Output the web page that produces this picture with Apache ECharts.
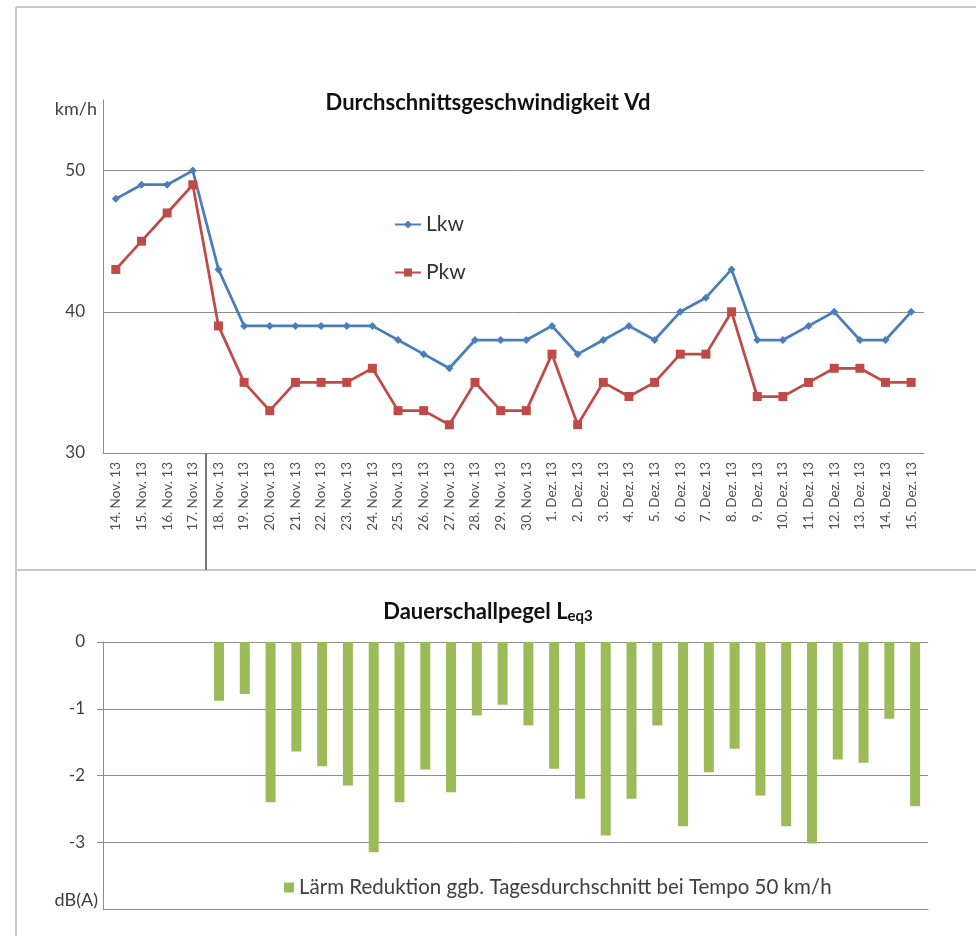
<!DOCTYPE html>
<html>
<head>
<meta charset="utf-8">
<script src="https://cdn.jsdelivr.net/npm/echarts@6/dist/echarts.min.js"></script>
<style>
html,body{margin:0;padding:0;background:#fff;}
#c{width:976px;height:936px;}
</style>
</head>
<body>
<div id="c"></div>
<script>
const categories = ['14. Nov. 13','15. Nov. 13','16. Nov. 13','17. Nov. 13','18. Nov. 13','19. Nov. 13','20. Nov. 13','21. Nov. 13','22. Nov. 13','23. Nov. 13','24. Nov. 13','25. Nov. 13','26. Nov. 13','27. Nov. 13','28. Nov. 13','29. Nov. 13','30. Nov. 13','1. Dez. 13','2. Dez. 13','3. Dez. 13','4. Dez. 13','5. Dez. 13','6. Dez. 13','7. Dez. 13','8. Dez. 13','9. Dez. 13','10. Dez. 13','11. Dez. 13','12. Dez. 13','13. Dez. 13','14. Dez. 13','15. Dez. 13'];
const lkw = [48,49,49,50,43,39,39,39,39,39,39,38,37,36,38,38,38,39,37,38,39,38,40,41,43,38,38,39,40,38,38,40];
const pkw = [43,45,47,49,39,35,33,35,35,35,36,33,33,32,35,33,33,37,32,35,34,35,37,37,40,34,34,35,36,36,35,35];
const reduction = [null,null,null,null,-0.88,-0.78,-2.4,-1.64,-1.86,-2.15,-3.15,-2.4,-1.91,-2.25,-1.1,-0.94,-1.25,-1.9,-2.35,-2.9,-2.35,-1.25,-2.76,-1.95,-1.6,-2.3,-2.76,-3.02,-1.76,-1.81,-1.15,-2.46];
const speedTicks = [30,40,50];
const dbTicks = [0,-1,-2,-3];
const changeDay = '18. Nov. 13';

const FONT = 'Lato';
const changeIndex = categories.indexOf(changeDay);
const chart = echarts.init(document.getElementById('c'));
const gridColor = '#8c8c8c';
chart.setOption({
  backgroundColor: '#ffffff',
  textStyle: {fontFamily: FONT},
  animation: false,
  graphic: [
    {type:'line', shape:{x1:16,y1:7,x2:976,y2:7}, style:{stroke:'#c8c8c8', lineWidth:2}},
    {type:'line', shape:{x1:16,y1:7,x2:16,y2:936}, style:{stroke:'#c8c8c8', lineWidth:2}},
    {type:'line', shape:{x1:16,y1:570,x2:976,y2:570}, style:{stroke:'#c8c8c8', lineWidth:2}}
  ],
  title: [
    {text:'Durchschnittsgeschwindigkeit Vd', left:'center', top:87,
     textStyle:{fontFamily:FONT, fontSize:22, fontWeight:'bold', color:'#111'}},
    {text:'Dauerschallpegel L{sub|eq3}', left:'center', top:594,
     textStyle:{fontFamily:FONT, fontSize:22, fontWeight:'bold', color:'#111',
       rich:{sub:{fontFamily:FONT, fontSize:15, fontWeight:'bold', color:'#111', padding:[10,0,0,0]}}}}
  ],
  legend: [
    {data:['Lkw','Pkw'], orient:'vertical', left:389, top:209, itemGap:27, itemWidth:26, itemHeight:10,
     textStyle:{fontFamily:FONT, fontSize:21, color:'#333'}},
    {data:['Lärm Reduktion ggb. Tagesdurchschnitt bei Tempo 50 km/h'], left:279, top:872, icon:'rect',
     itemWidth:10, itemHeight:10, textStyle:{fontFamily:FONT, fontSize:20.5, color:'#404040'}}
  ],
  grid: [
    {left:103, right:52, top:100, bottom:483},
    {left:103, right:48, top:642, bottom:27}
  ],
  xAxis: [
    {type:'category', gridIndex:0, data:categories, boundaryGap:true,
     axisLine:{lineStyle:{color:gridColor, width:1}},
     axisTick:{show:false},
     axisLabel:{rotate:90, fontSize:13.5, color:'#505050', margin:9, interval:0, fontFamily:FONT}},
    {type:'category', gridIndex:1, data:categories, boundaryGap:true,
     axisLine:{onZero:false, lineStyle:{color:gridColor, width:1}},
     axisTick:{show:false}, axisLabel:{show:false}},
    {type:'value', gridIndex:0, min:0, max:categories.length, position:'bottom',
     axisLine:{show:false}, axisLabel:{show:false}, splitLine:{show:false},
     axisTick:{show:true, customValues:[changeIndex], length:117, lineStyle:{color:'#7a7a7a', width:2}}}
  ],
  yAxis: [
    {type:'value', gridIndex:0, min:30, max:55, interval:10,
     name:'km/h', nameLocation:'end', nameGap:0,
     nameTextStyle:{fontFamily:FONT, fontSize:18, color:'#404040', align:'right', verticalAlign:'top', padding:[0,6,0,0]},
     axisLine:{show:true, lineStyle:{color:gridColor}},
     axisTick:{show:false},
     axisLabel:{fontSize:17, color:'#404040', margin:18, showMaxLabel:false, fontFamily:FONT,
       formatter:(v)=> speedTicks.includes(v) ? String(v) : ''},
     splitLine:{show:true, showMaxLine:false, lineStyle:{color:gridColor, width:1}}},
    {type:'value', gridIndex:1, min:-4, max:0, interval:1,
     name:'dB(A)', nameLocation:'start', nameGap:0,
     nameTextStyle:{fontFamily:FONT, fontSize:18, color:'#404040', align:'right', verticalAlign:'bottom', padding:[0,5,0,0]},
     axisLine:{show:true, lineStyle:{color:gridColor}},
     axisTick:{show:true, length:6, lineStyle:{color:gridColor}},
     axisLabel:{fontSize:17, color:'#404040', margin:18, showMinLabel:false, fontFamily:FONT,
       formatter:(v)=> dbTicks.includes(v) ? String(v) : ''},
     splitLine:{show:true, lineStyle:{color:gridColor, width:1}}}
  ],
  series: [
    {name:'Lkw', type:'line', xAxisIndex:0, yAxisIndex:0, data:lkw,
     symbol:'diamond', symbolSize:8, lineStyle:{color:'#4a7ebb', width:2.75},
     itemStyle:{color:'#4a7ebb'}},
    {name:'Pkw', type:'line', xAxisIndex:0, yAxisIndex:0, data:pkw,
     symbol:'rect', symbolSize:9, lineStyle:{color:'#be4b48', width:2.75},
     itemStyle:{color:'#be4b48'}},
    {name:'Lärm Reduktion ggb. Tagesdurchschnitt bei Tempo 50 km/h', type:'bar', xAxisIndex:1, yAxisIndex:1,
     data:reduction, barWidth:10, itemStyle:{color:'#9bbb59'}}
  ]
});
</script>
</body>
</html>
